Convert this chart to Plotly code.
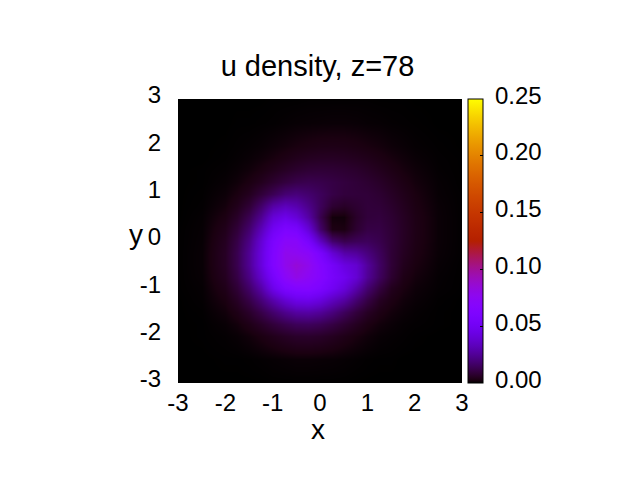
import math
import plotly.graph_objects as go

# grid, density in units of 1e-4
x_vals = [-3, -2.5, -2, -1.75, -1.5, -1.25, -1, -0.75, -0.5, -0.25, 0, 0.25, 0.5, 0.75, 1, 1.25, 1.5, 1.75, 2, 2.5, 3]
y_vals = [3, 2.5, 2, 1.75, 1.5, 1.25, 1, 0.75, 0.5, 0.25, 0, -0.25, -0.5, -0.75, -1, -1.25, -1.5, -1.75, -2, -2.5, -3]
density_rows = [
    [0, 0, 0, 0, 0, 0, 1, 1, 1, 2, 2, 2, 2, 2, 2, 1, 1, 1, 0, 0, 0],
    [0, 0, 0, 1, 1, 2, 3, 5, 7, 8, 9, 10, 10, 9, 7, 6, 4, 3, 2, 0, 0],
    [0, 0, 1, 3, 5, 8, 13, 18, 24, 29, 33, 34, 33, 29, 24, 19, 13, 9, 5, 2, 0],
    [0, 0, 2, 5, 9, 15, 23, 33, 43, 51, 55, 56, 53, 47, 40, 31, 22, 15, 9, 3, 1],
    [0, 1, 4, 9, 16, 27, 42, 58, 72, 83, 86, 84, 78, 70, 59, 46, 33, 22, 14, 4, 1],
    [0, 1, 7, 15, 28, 47, 73, 99, 118, 126, 120, 109, 98, 88, 77, 63, 46, 31, 19, 6, 1],
    [0, 2, 12, 26, 48, 90, 135, 185, 200, 176, 144, 112, 95, 92, 89, 77, 58, 40, 25, 7, 2],
    [0, 3, 19, 42, 85, 170, 280, 330, 300, 226, 144, 78, 61, 77, 92, 88, 69, 48, 29, 9, 2],
    [0, 5, 29, 64, 130, 240, 400, 460, 400, 280, 125, 17, 16, 65, 93, 97, 78, 54, 33, 10, 2],
    [1, 6, 41, 89, 175, 320, 500, 600, 570, 400, 170, 30, 26, 76, 109, 109, 84, 57, 34, 10, 2],
    [1, 7, 51, 113, 218, 390, 590, 710, 706, 565, 342, 174, 124, 138, 144, 122, 87, 56, 33, 10, 2],
    [1, 8, 57, 126, 245, 417, 621, 780, 760, 720, 573, 393, 287, 260, 205, 145, 85, 52, 30, 9, 2],
    [1, 8, 56, 125, 244, 417, 625, 780, 850, 780, 650, 530, 430, 380, 260, 160, 85, 44, 25, 7, 1],
    [1, 7, 49, 110, 214, 367, 550, 720, 800, 740, 660, 550, 480, 390, 250, 150, 75, 34, 19, 5, 1],
    [1, 5, 38, 85, 166, 284, 460, 590, 640, 650, 590, 500, 410, 290, 180, 100, 45, 25, 13, 4, 1],
    [0, 4, 26, 58, 113, 193, 291, 385, 449, 459, 416, 335, 270, 180, 110, 54, 30, 16, 9, 2, 0],
    [0, 2, 16, 35, 67, 116, 174, 231, 270, 277, 252, 203, 146, 95, 57, 32, 18, 10, 5, 1, 0],
    [0, 1, 8, 18, 36, 61, 92, 121, 142, 146, 133, 107, 77, 51, 30, 17, 10, 5, 3, 1, 0],
    [0, 1, 4, 8, 16, 28, 42, 56, 66, 68, 62, 50, 36, 24, 15, 8, 5, 3, 1, 0, 0],
    [0, 0, 1, 1, 2, 4, 6, 8, 10, 10, 9, 8, 6, 4, 2, 1, 1, 0, 0, 0, 0],
    [0, 0, 0, 0, 0, 0, 1, 1, 1, 1, 1, 1, 1, 0, 0, 0, 0, 0, 0, 0, 0],
]
axis_ticks = [-3, -2, -1, 0, 1, 2, 3]
axis_labels = ["-3", "-2", "-1", "0", "1", "2", "3"]
cbar_ticks = [0.0, 0.05, 0.1, 0.15, 0.2, 0.25]

FONT = "Liberation Sans"

# gnuplot's default palette (rgbformulae 7,5,15)
palette = []
for i in range(101):
    g = i / 100
    r = round(255 * math.sqrt(g))
    gr = round(255 * g ** 3)
    b = round(255 * max(0, math.sin(2 * math.pi * g)))
    palette.append([g, f"rgb({r},{gr},{b})"])

z = [[v / 10000 for v in row] for row in density_rows[::-1]]

fig = go.Figure()
fig.add_trace(go.Heatmap(
    x=x_vals, y=y_vals[::-1], z=z, zmin=0, zmax=0.25, zsmooth="best",
    colorscale=palette, hoverinfo="skip",
    colorbar=dict(
        thickness=15, thicknessmode="pixels", len=1, lenmode="fraction",
        x=1.021, xanchor="left", y=0, yanchor="bottom", xpad=0, ypad=0,
        outlinecolor="black", outlinewidth=1,
        tickvals=cbar_ticks, ticks="inside", ticklen=3, tickcolor="black", tickwidth=1,
        showticklabels=False,
    ),
))

# colorbar labels sit a little above their ticks in the original
annotations = [
    dict(text=f"{t:.2f}", x=(492.5 - 178) / 284, xref="x domain", y=t / 0.25, yref="y domain",
         xanchor="left", yanchor="middle", yshift=4, showarrow=False,
         font=dict(family=FONT, size=24, color="black"))
    for t in cbar_ticks
]
# axis titles, the y one is horizontal
annotations.append(dict(text="x", x=(318 - 178) / 284, xref="x domain", y=(383 - 429) / 284, yref="y domain",
                        xanchor="center", yanchor="middle", showarrow=False,
                        font=dict(family=FONT, size=28, color="black")))
annotations.append(dict(text="y", x=(136 - 178) / 284, xref="x domain", y=(383 - 234) / 284, yref="y domain",
                        xanchor="center", yanchor="middle", showarrow=False,
                        font=dict(family=FONT, size=28, color="black")))

# page body has an 8px margin, the margins below take that off
fig.update_layout(
    width=640, height=480, autosize=False,
    margin=dict(l=170, r=186, t=91, b=105, pad=0),
    paper_bgcolor="white", plot_bgcolor="black",
    title=dict(text="u density, z=78", x=309.5 / 640, xanchor="center", y=1 - 58 / 480, yanchor="middle",
               font=dict(family=FONT, size=29, color="black")),
    annotations=annotations,
    xaxis=dict(range=[-3, 3], tickvals=axis_ticks, ticktext=axis_labels, ticks="", showgrid=False, zeroline=False,
               ticklabelstandoff=3, tickfont=dict(family=FONT, size=24, color="black")),
    yaxis=dict(range=[-3, 3], tickvals=axis_ticks, ticktext=axis_labels, ticks="", showgrid=False, zeroline=False,
               ticklabelshift=-4, ticklabelstandoff=16, tickfont=dict(family=FONT, size=24, color="black")),
)

fig.write_html("out.html")
